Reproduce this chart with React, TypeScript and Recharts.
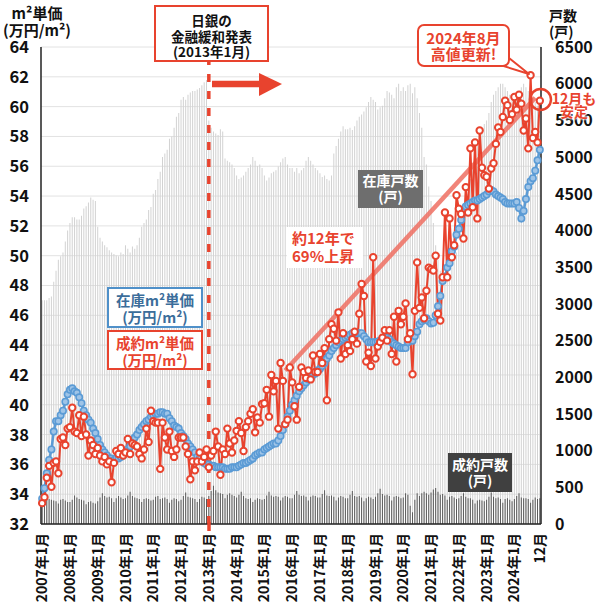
import React from "react";
import {
  ComposedChart, Bar, Line, XAxis, YAxis, CartesianGrid, ReferenceLine,
} from "recharts";

const RED = "#e8432e";
const BLUE = "#5b9bd5";
const FONT = "'Noto Sans CJK JP', 'Noto Sans', sans-serif";

const years = [2007, 2008, 2009, 2010, 2011, 2012, 2013, 2014, 2015, 2016, 2017, 2018, 2019, 2020, 2021, 2022, 2023, 2024];

// 在庫戸数 (戸) – one row per year, Jan..Dec
const inventoryCount = [
  3050, 3050, 3050, 3080, 3100, 3300, 3450, 3600, 3650, 3700, 3850, 4000,
  4100, 4180, 4180, 4150, 4150, 4200, 4300, 4330, 4380, 4450, 4420, 4400,
  4050, 3900, 3850, 3800, 3770, 3730, 3700, 3680, 3660, 3650, 3700, 3680,
  3800, 3750, 3700, 3780, 3750, 3800, 3900, 4050, 4100, 4150, 4280, 4320,
  4500, 4550, 4700, 4800, 5000, 5050, 5100, 5250, 5280, 5400, 5550, 5600,
  5780, 5820, 5780, 5850, 5880, 5900, 5900, 5920, 5940, 5980, 6020, 6050,
  5500, 5400, 5350, 5320, 5300, 5380, 5350, 4980, 4950, 4930, 4900, 4850,
  4750, 4700, 4720, 4750, 4800, 4850, 4900, 5000, 4950, 4880, 4900, 4850,
  4750, 4680, 4720, 4780, 4800, 4820, 4870, 4930, 4980, 5000, 4900, 4850,
  4850, 4800, 4850, 4780, 4820, 4850, 4950, 5000, 4950, 4900, 4850, 4820,
  4780, 4730, 4750, 4700, 4680, 4750, 5050, 5150, 5250, 5350, 5420, 5380,
  5380, 5400, 5370, 5420, 5500, 5550, 5580, 5620, 5680, 5750, 5820, 5780,
  5750, 5650, 5680, 5700, 5800, 5900, 5880, 5850, 5800, 5950, 6000, 5900,
  5950, 5900, 5980, 6000, 5870, 5950, 5800, 5600, 5400, 5000, 4900, 4600,
  4400, 4100, 3800, 3600, 3450, 3350, 3300, 3350, 3400, 3500, 3600, 3700,
  3800, 3950, 4100, 4300, 4500, 4700, 4900, 5000, 5200, 5300, 5400, 5450,
  5500, 5600, 5750, 5850, 5900, 5950, 6000, 6000, 5950, 5900, 5850, 5800,
  5800, 5850, 5900, 5950, 6000, 5950, 5900, 5850, 5800, 5750, 5700, 5650,
];

// 成約戸数 (戸)
const contractCount = [
  330, 350, 400, 340, 330, 320, 310, 280, 330, 340, 320, 300,
  300, 330, 390, 360, 340, 330, 320, 270, 300, 310, 290, 280,
  310, 360, 420, 380, 360, 370, 350, 300, 350, 380, 360, 340,
  350, 390, 440, 380, 360, 350, 340, 300, 340, 350, 340, 320,
  330, 370, 380, 340, 350, 360, 340, 290, 330, 350, 340, 310,
  330, 380, 430, 370, 360, 350, 340, 300, 340, 370, 360, 340,
  380, 450, 520, 460, 430, 420, 410, 350, 400, 420, 400, 380,
  360, 400, 440, 380, 350, 340, 350, 300, 330, 350, 340, 330,
  340, 390, 440, 390, 370, 380, 370, 320, 360, 380, 370, 350,
  350, 400, 450, 400, 380, 390, 370, 320, 370, 390, 380, 360,
  360, 410, 460, 390, 380, 390, 370, 320, 360, 380, 370, 350,
  350, 400, 450, 380, 370, 380, 360, 310, 350, 370, 360, 340,
  370, 420, 480, 410, 390, 400, 380, 320, 370, 380, 370, 350,
  360, 420, 400, 250, 160, 330, 420, 380, 420, 440, 420, 400,
  430, 470, 490, 440, 400, 410, 390, 330, 370, 380, 360, 340,
  350, 380, 420, 370, 350, 350, 330, 280, 320, 330, 320, 310,
  330, 370, 430, 370, 350, 360, 340, 290, 340, 350, 330, 310,
  340, 380, 420, 360, 350, 350, 340, 290, 330, 360, 340, 350,
];

// 在庫m²単価 (万円/m²)
const inventoryPrice = [
  33.7, 34.4, 35.4, 36.3, 37.0, 38.2, 38.9, 38.9, 39.3, 39.6, 40.2, 40.7,
  41.0, 41.1, 40.9, 40.8, 40.5, 40.1, 39.6, 39.3, 39.0, 38.8, 38.4, 38.1,
  37.7, 37.3, 37.0, 36.8, 36.6, 36.4, 36.4, 36.3, 36.4, 36.4, 36.5, 36.6,
  36.8, 37.0, 37.2, 37.5, 37.8, 38.0, 38.3, 38.5, 38.7, 38.9, 39.0, 39.2,
  39.3, 39.4, 39.4, 39.5, 39.5, 39.4, 39.4, 39.1, 38.9, 38.6, 38.5, 38.4,
  38.1, 37.9, 37.7, 37.4, 37.2, 37.0, 36.8, 36.5, 36.4, 36.2, 36.1, 36.0,
  36.0, 35.9, 35.9, 35.8, 35.8, 35.8, 35.8, 35.7, 35.7, 35.7, 35.8, 35.8,
  35.8, 35.9, 36.0, 36.1, 36.1, 36.2, 36.3, 36.4, 36.6, 36.7, 36.8, 36.8,
  37.0, 37.1, 37.2, 37.3, 37.4, 37.4, 37.6, 37.9, 38.3, 38.7, 39.2, 39.6,
  40.0, 40.3, 40.6, 40.9, 41.1, 41.3, 41.5, 41.7, 41.8, 42.0, 42.1, 42.3,
  42.4, 42.6, 42.8, 43.1, 43.3, 43.6, 43.8, 44.0, 44.2, 44.3, 44.4, 44.5,
  44.6, 44.7, 44.8, 44.8, 44.8, 44.8, 44.8, 44.6, 44.4, 44.2, 44.2, 44.2,
  44.2, 44.25, 44.3, 44.4, 44.5, 44.5, 44.4, 44.2, 44.1, 44.0, 43.9, 43.8,
  43.8, 43.8, 44.2, 44.4, 44.3, 44.6, 44.9, 45.4, 45.6, 45.7, 45.8, 45.6,
  45.45, 45.5, 46.0, 46.6, 47.3, 48.3, 48.6, 49.2, 49.5, 50.3, 50.6, 51.4,
  51.8, 52.4, 52.9, 53.3, 53.4, 53.5, 53.6, 53.7, 53.7, 53.8, 53.9, 54.0,
  54.1, 54.3, 54.4, 54.3, 54.1, 54.0, 53.9, 53.8, 53.6, 53.5, 53.5, 53.5,
  53.5, 53.6, 53.2, 52.5, 53.0, 53.8, 54.6, 55.0, 55.2, 55.7, 56.4, 57.1,
];

// 成約m²単価 (万円/m²)
const contractPrice = [
  33.4, 33.8, 35.1, 35.9, 34.5, 36.1, 36.2, 35.4, 37.7, 37.8, 37.3, 38.4,
  38.5, 39.8, 38.2, 38.1, 39.3, 37.9, 39.2, 38.0, 36.6, 37.6, 37.3, 36.7,
  37.1, 36.6, 36.2, 36.5, 36.0, 36.2, 34.8, 36.1, 36.9, 36.7, 37.1, 36.6,
  36.8, 37.7, 36.7, 37.4, 37.3, 37.2, 36.7, 36.4, 37.0, 38.4, 37.5, 39.6,
  38.9, 38.8, 38.8, 35.7, 38.8, 37.8, 37.0, 38.2, 36.9, 36.5, 37.0, 37.8,
  37.8, 37.8, 37.2, 36.7, 35.0, 36.2, 35.6, 36.2, 36.8, 36.2, 36.5, 37.0,
  35.8, 36.6, 36.9, 38.2, 37.2, 35.3, 37.0, 36.7, 38.4, 37.4, 36.8, 37.6,
  38.25, 38.9, 38.1, 36.9, 38.5, 38.9, 39.4, 39.7, 38.15, 39.15, 38.8, 40.05,
  40.1, 41.0, 39.2, 42.0, 40.9, 41.6, 38.4, 42.8, 41.6, 38.7, 39.0, 42.5,
  41.5, 39.9, 39.0, 41.2, 42.5, 42.2, 41.8, 42.3, 41.7, 43.3, 42.2, 42.2,
  43.4, 42.8, 43.8, 40.3, 44.4, 45.4, 45.1, 44.3, 46.2, 43.1, 44.8, 43.4,
  44.0, 43.6, 44.4, 44.9, 44.1, 46.1, 48.1, 47.3, 42.9, 43.5, 42.6, 49.9,
  43.1, 43.9, 44.2, 44.5, 45.0, 44.3, 45.0, 43.4, 45.9, 42.9, 46.3, 45.4,
  45.9, 46.8, 44.4, 44.8, 42.05, 46.3, 49.55, 46.5, 47.2, 45.8, 47.65, 49.2,
  49.1, 49.0, 50.0, 46.1, 45.65, 48.55, 52.9, 48.55, 52.5, 49.9, 50.7, 54.05,
  53.15, 52.8, 51.15, 54.6, 52.9, 57.2, 53.25, 57.6, 52.5, 58.4, 55.9, 55.4,
  55.3, 54.5, 55.85, 56.2, 57.5, 58.6, 58.3, 59.3, 60.4, 60.1, 59.1, 59.5,
  60.65, 59.8, 60.8, 60.2, 58.4, 59.2, 57.2, 62.1, 57.9, 58.3, 57.6, 60.4,
];

const priceTicks = [32, 34, 36, 38, 40, 42, 44, 46, 48, 50, 52, 54, 56, 58, 60, 62, 64];
const countTicks = [0, 500, 1000, 1500, 2000, 2500, 3000, 3500, 4000, 4500, 5000, 5500, 6000, 6500];

const labels = years.flatMap((y) => Array.from({ length: 12 }, (_, m) => `${y}年${m + 1}月`));
const xTicks = [...years.map((y) => `${y}年1月`), "2024年12月"];

const data = labels.map((label, i) => ({
  label,
  inv: inventoryCount[i],
  con: contractCount[i],
  invPrice: inventoryPrice[i],
  conPrice: contractPrice[i],
}));

const XTick = ({ x, payload }: any) => {
  const text = payload.value === "2024年12月" ? "12月" : payload.value;
  return (
    <text
      transform={`translate(${x},533) rotate(-90)`}
      textAnchor="end"
      dy="0.36em"
      fontSize={14}
      fontWeight={700}
      fontFamily={FONT}
      fill="#111"
    >
      {text}
    </text>
  );
};

const LeftTick = ({ y, payload }: any) => (
  <text x={29} y={y} dy="0.36em" textAnchor="end" fontSize={16.5} fontWeight={700} fontFamily={FONT} fill="#111">
    {payload.value}
  </text>
);

const RightTick = ({ y, payload }: any) => (
  <text x={555} y={y} dy="0.36em" textAnchor="start" fontSize={16} fontWeight={700} fontFamily={FONT} fill="#111">
    {payload.value}
  </text>
);

const abs = (s: React.CSSProperties): React.CSSProperties => ({
  position: "absolute",
  boxSizing: "border-box",
  fontFamily: FONT,
  fontWeight: 700,
  textAlign: "center",
  whiteSpace: "nowrap",
  ...s,
});

export default function App() {
  return (
    <div style={{ position: "absolute", left: 0, top: 0, width: 600, height: 613, background: "#fff", overflow: "hidden" }}>
      <ComposedChart width={600} height={613} data={data} margin={{ top: 47, right: 0, left: 0, bottom: 0 }} barCategoryGap="28%">
        <CartesianGrid xAxisId="a" yAxisId="left" vertical={false} stroke="#e2e2e2" />
        <XAxis
          xAxisId="a"
          dataKey="label"
          ticks={xTicks}
          interval={0}
          height={89}
          tick={<XTick />}
          tickLine={false}
          axisLine={{ stroke: "#222", strokeWidth: 1.5 }}
        />
        <XAxis xAxisId="b" dataKey="label" hide />
        <YAxis
          yAxisId="left"
          domain={[32, 64]}
          ticks={priceTicks}
          interval={0}
          width={41}
          tick={<LeftTick />}
          tickLine={false}
          axisLine={{ stroke: "#222", strokeWidth: 1.5 }}
          allowDataOverflow
        />
        <YAxis
          yAxisId="right"
          orientation="right"
          domain={[0, 6500]}
          ticks={countTicks}
          interval={0}
          width={59}
          tick={<RightTick />}
          tickLine={false}
          axisLine={{ stroke: "#222", strokeWidth: 1.5 }}
        />
        <Bar xAxisId="b" yAxisId="right" dataKey="inv" fill="#d2d2d2" isAnimationActive={false} />
        <Bar xAxisId="a" yAxisId="right" dataKey="con" fill="#5a5a5a" isAnimationActive={false} />
        <ReferenceLine
          xAxisId="a"
          yAxisId="left"
          x="2013年1月"
          stroke={RED}
          strokeWidth={3.5}
          strokeDasharray="8 9"
        />
        <ReferenceLine
          xAxisId="a"
          yAxisId="left"
          segment={[{ x: "2015年10月", y: 42.3 }, { x: "2024年10月", y: 60.6 }]}
          stroke="#ef6f62"
          strokeOpacity={0.85}
          strokeWidth={4.5}
        />
        <Line
          xAxisId="a"
          yAxisId="left"
          dataKey="invPrice"
          stroke={BLUE}
          strokeWidth={2.5}
          dot={{ r: 3.2, fill: "#9fc4e7", stroke: BLUE, strokeWidth: 1.6 }}
          isAnimationActive={false}
        />
        <Line
          xAxisId="a"
          yAxisId="left"
          dataKey="conPrice"
          stroke={RED}
          strokeWidth={2}
          dot={{ r: 3.2, fill: "#fff", stroke: RED, strokeWidth: 2 }}
          isAnimationActive={false}
        />
      </ComposedChart>

      {/* annotation shapes */}
      <svg width={600} height={613} style={{ position: "absolute", left: 0, top: 0, pointerEvents: "none" }}>
        <line x1={209} y1={522} x2={209} y2={531} stroke={RED} strokeWidth={3.5} />
        <line x1={212} y1={84} x2={262} y2={84} stroke={RED} strokeWidth={6.5} />
        <polygon points="259,73 282,84 259,96" fill={RED} />
        <polygon points="497,64 529,74 509,58" fill="#fff" stroke={RED} strokeWidth={2} strokeLinejoin="round" />
        <circle cx={540.5} cy={99.5} r={10.5} fill="none" stroke={RED} strokeWidth={2.5} />
      </svg>

      {/* axis titles */}
      <div style={abs({ left: 1, top: 5, width: 72, fontSize: 15, lineHeight: "16.5px", color: "#111" })}>
        m²単価<br />(万円/m²)
      </div>
      <div style={abs({ left: 549, top: 7, textAlign: "left", fontSize: 14, lineHeight: "16px", color: "#111" })}>
        戸数<br />(戸)
      </div>

      {/* 日銀 box */}
      <div
        style={abs({
          left: 154, top: 5, width: 115, height: 57, border: `2px solid ${RED}`, background: "#fff",
          fontSize: 13.5, lineHeight: "15.5px", paddingTop: 6, color: "#111",
        })}
      >
        日銀の<br />金融緩和発表<br />(2013年1月)
      </div>

      {/* 高値更新 bubble */}
      <div
        style={abs({
          left: 417, top: 24, width: 93, height: 43, border: `2px solid ${RED}`, borderRadius: 7, background: "#fff",
          fontSize: 15, lineHeight: "15.5px", paddingTop: 4, color: RED,
        })}
      >
        2024年8月<br />高値更新!
      </div>

      {/* 12月も安定 */}
      <div
        style={abs({
          left: 550, top: 92, width: 48, fontSize: 14, lineHeight: "13px", color: RED,
          textShadow: "0 0 2px #fff, 0 0 2px #fff, 0 0 3px #fff",
        })}
      >
        12月も<br />安定
      </div>

      {/* 在庫戸数 */}
      <div
        style={abs({
          left: 358, top: 170, width: 65, height: 38, background: "#6e6e6e", color: "#fff",
          fontSize: 14, lineHeight: "15.5px", paddingTop: 3,
        })}
      >
        在庫戸数<br />(戸)
      </div>

      {/* 成約戸数 */}
      <div
        style={abs({
          left: 448, top: 453, width: 64, height: 39, background: "#404040", color: "#fff",
          fontSize: 14, lineHeight: "15.5px", paddingTop: 4,
        })}
      >
        成約戸数<br />(戸)
      </div>

      {/* 約12年で69%上昇 */}
      <div
        style={abs({
          left: 287, top: 227, width: 76, height: 41, background: "#fff", color: RED,
          fontSize: 15, lineHeight: "18px", paddingTop: 2, textAlign: "left", paddingLeft: 5,
        })}
      >
        約12年で<br />69%上昇
      </div>

      {/* series label boxes */}
      <div
        style={abs({
          left: 107, top: 287, width: 96, height: 41, border: `2px solid #4f90c9`, background: "#fff",
          fontSize: 14.5, lineHeight: "16.5px", paddingTop: 3, color: "#3b6d9a",
        })}
      >
        在庫m²単価<br />(万円/m²)
      </div>
      <div
        style={abs({
          left: 107, top: 330, width: 96, height: 40, border: `2px solid ${RED}`, background: "#fff",
          fontSize: 14.5, lineHeight: "16.5px", paddingTop: 3, color: RED,
        })}
      >
        成約m²単価<br />(万円/m²)
      </div>
    </div>
  );
}
